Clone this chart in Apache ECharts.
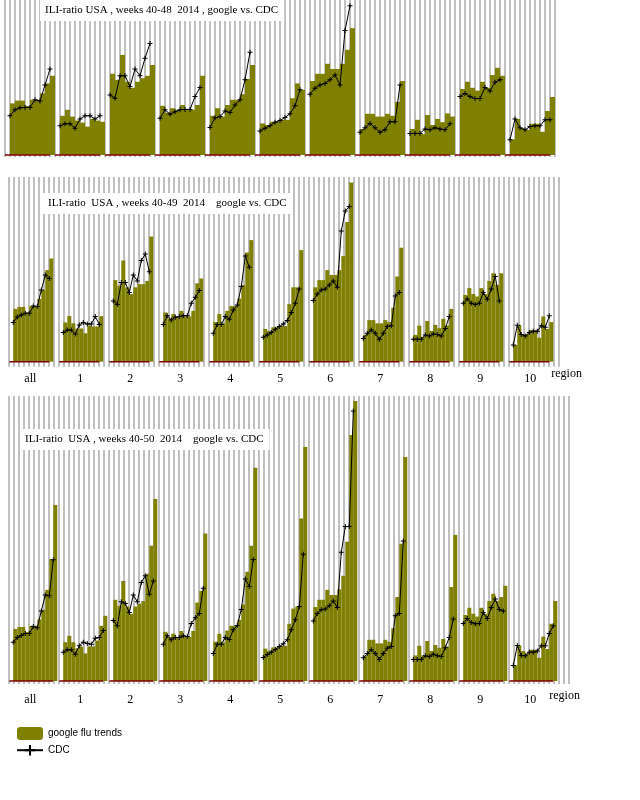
<!DOCTYPE html>
<html lang="en">
<head>
<meta charset="UTF-8">
<title>ILI-ratio USA, google vs. CDC</title>
<script src="https://cdn.jsdelivr.net/npm/echarts@6.0.0/dist/echarts.min.js"></script>
<style>
    html, body {margin: 0; padding: 0; background: #fff;}
    #chart {width: 640px; height: 800px;}
</style>
</head>
<body>
<div id="chart"></div>
<script>
// groups along the x axis
var regions = ['all', '1', '2', '3', '4', '5', '6', '7', '8', '9', '10'];

// weeks 40-48 2014 (one row per region, all first)
var google48 = [
    [1.29, 1.36, 1.36, 1.23, 1.38, 1.38, 1.54, 1.79, 1.98],
    [0.98, 1.13, 0.96, 0.86, 0.81, 0.71, 0.90, 0.86, 0.83],
    [2.03, 1.88, 2.50, 1.83, 1.68, 1.83, 1.92, 1.98, 2.25],
    [1.23, 1.06, 1.17, 1.13, 1.25, 1.13, 1.13, 1.25, 1.98],
    [0.98, 1.17, 0.96, 1.25, 1.38, 1.38, 1.52, 1.90, 2.25],
    [0.79, 0.75, 0.83, 0.83, 0.88, 0.88, 1.42, 1.79, 1.63],
    [1.85, 2.03, 2.03, 2.28, 2.15, 2.15, 2.28, 2.63, 3.17],
    [0.65, 1.03, 1.03, 0.96, 0.96, 1.03, 0.98, 1.33, 1.85],
    [0.65, 0.88, 0.52, 1.00, 0.75, 0.90, 0.82, 1.04, 0.96],
    [1.65, 1.83, 1.68, 1.61, 1.83, 1.68, 2.00, 2.18, 1.98],
    [0.39, 0.90, 0.67, 0.63, 0.78, 0.78, 0.58, 1.10, 1.45]
];
var cdc48 = [
    [0.98, 1.13, 1.18, 1.19, 1.19, 1.38, 1.35, 1.75, 2.15],
    [0.73, 0.78, 0.78, 0.67, 0.90, 0.98, 0.98, 0.90, 0.98],
    [1.50, 1.42, 1.98, 1.98, 1.71, 2.15, 1.98, 2.42, 2.79],
    [0.92, 1.13, 1.02, 1.08, 1.13, 1.14, 1.14, 1.46, 1.69],
    [0.69, 0.93, 0.96, 1.10, 1.06, 1.25, 1.38, 1.88, 2.57],
    [0.60, 0.67, 0.73, 0.82, 0.86, 0.94, 1.03, 1.23, 1.63],
    [1.52, 1.67, 1.75, 1.79, 1.88, 2.00, 1.75, 3.11, 3.73],
    [0.57, 0.68, 0.79, 0.68, 0.57, 0.63, 0.83, 0.83, 1.75],
    [0.54, 0.54, 0.54, 0.65, 0.63, 0.68, 0.65, 0.63, 0.78],
    [1.46, 1.54, 1.46, 1.41, 1.41, 1.69, 1.60, 1.82, 1.88],
    [0.38, 0.90, 0.68, 0.63, 0.71, 0.73, 0.73, 0.88, 0.88]
];

// weeks 40-49 2014
var google49 = [
    [1.32, 1.37, 1.37, 1.23, 1.39, 1.39, 1.57, 1.79, 2.29, 2.58],
    [0.98, 1.14, 0.96, 0.83, 0.83, 0.71, 0.90, 0.88, 0.88, 1.14],
    [2.04, 1.90, 2.53, 1.86, 1.69, 1.86, 1.94, 1.94, 2.02, 3.13],
    [1.23, 1.08, 1.19, 1.13, 1.27, 1.13, 1.13, 1.27, 1.96, 2.08],
    [0.99, 1.19, 0.96, 1.27, 1.39, 1.39, 1.58, 1.92, 2.73, 3.04],
    [0.82, 0.77, 0.86, 0.86, 0.89, 0.89, 1.44, 1.86, 1.86, 2.79],
    [1.86, 2.04, 2.04, 2.29, 2.17, 2.17, 2.29, 2.64, 3.49, 4.48],
    [0.67, 1.04, 1.04, 0.96, 0.96, 1.04, 0.99, 1.35, 2.13, 2.85],
    [0.67, 0.90, 0.62, 1.02, 0.77, 0.92, 0.84, 1.07, 0.90, 1.32],
    [1.67, 1.84, 1.69, 1.63, 1.84, 1.69, 2.02, 2.21, 1.92, 2.21],
    [0.42, 0.92, 0.68, 0.69, 0.79, 0.79, 0.60, 1.13, 0.82, 0.99]
];
var cdc49 = [
    [0.98, 1.12, 1.17, 1.21, 1.21, 1.39, 1.38, 1.79, 2.17, 2.08],
    [0.73, 0.79, 0.79, 0.69, 0.92, 0.98, 0.94, 0.94, 1.13, 0.93],
    [1.52, 1.43, 1.98, 1.98, 1.73, 2.17, 2.02, 2.53, 2.69, 2.25],
    [0.93, 1.15, 1.04, 1.11, 1.13, 1.15, 1.15, 1.46, 1.61, 1.78],
    [0.71, 0.93, 0.93, 1.13, 1.06, 1.29, 1.42, 1.88, 2.64, 2.36],
    [0.61, 0.67, 0.73, 0.81, 0.88, 0.94, 1.03, 1.23, 1.46, 1.82],
    [1.53, 1.69, 1.79, 1.82, 1.92, 2.02, 1.86, 3.27, 3.77, 3.88],
    [0.58, 0.71, 0.79, 0.71, 0.56, 0.71, 0.88, 0.90, 1.64, 1.73],
    [0.56, 0.56, 0.56, 0.67, 0.64, 0.69, 0.68, 0.64, 0.83, 1.13],
    [1.46, 1.57, 1.46, 1.43, 1.46, 1.73, 1.56, 1.82, 2.13, 1.52],
    [0.42, 0.91, 0.68, 0.64, 0.73, 0.76, 0.76, 0.90, 0.86, 1.15]
];

// weeks 40-50 2014
var google50 = [
    [1.30, 1.35, 1.35, 1.22, 1.38, 1.38, 1.54, 1.78, 2.28, 3.05, 4.40],
    [0.97, 1.13, 0.97, 0.82, 0.86, 0.69, 0.86, 0.86, 1.01, 1.38, 1.63],
    [2.03, 1.88, 2.50, 1.86, 1.68, 1.86, 1.93, 2.00, 2.68, 3.38, 4.55],
    [1.23, 1.10, 1.18, 1.10, 1.25, 1.10, 1.10, 1.25, 1.96, 2.25, 3.69],
    [0.98, 1.18, 0.96, 1.26, 1.38, 1.38, 1.53, 1.91, 2.73, 3.38, 5.33],
    [0.81, 0.76, 0.84, 0.84, 0.88, 0.88, 1.43, 1.81, 1.86, 4.06, 5.85],
    [1.85, 2.03, 2.03, 2.28, 2.15, 2.15, 2.29, 2.63, 3.48, 6.15, 7.00],
    [0.63, 1.03, 1.03, 0.94, 0.94, 1.03, 0.98, 1.32, 2.10, 3.43, 5.60],
    [0.64, 0.88, 0.64, 1.00, 0.75, 0.90, 0.83, 1.05, 0.86, 2.35, 3.65],
    [1.65, 1.83, 1.68, 1.61, 1.83, 1.68, 2.00, 2.18, 2.00, 2.10, 2.38],
    [0.39, 0.89, 0.75, 0.69, 0.78, 0.78, 0.58, 1.11, 0.80, 1.43, 2.00]
];
var cdc50 = [
    [0.97, 1.09, 1.14, 1.19, 1.19, 1.36, 1.33, 1.75, 2.15, 2.13, 3.03],
    [0.72, 0.78, 0.78, 0.67, 0.88, 0.97, 0.94, 0.92, 1.07, 1.09, 1.26],
    [1.51, 1.38, 1.98, 1.94, 1.71, 2.15, 1.98, 2.46, 2.63, 2.17, 2.50],
    [0.92, 1.13, 1.03, 1.09, 1.09, 1.13, 1.11, 1.44, 1.58, 1.69, 2.32],
    [0.69, 0.92, 0.92, 1.09, 1.04, 1.28, 1.39, 1.79, 2.55, 2.36, 3.04],
    [0.59, 0.66, 0.72, 0.79, 0.86, 0.93, 1.03, 1.28, 1.53, 1.86, 3.17],
    [1.50, 1.69, 1.78, 1.80, 1.88, 2.00, 1.84, 3.22, 3.86, 3.86, 6.75],
    [0.58, 0.69, 0.78, 0.69, 0.54, 0.69, 0.82, 0.86, 1.63, 1.69, 3.50],
    [0.54, 0.54, 0.54, 0.63, 0.61, 0.67, 0.63, 0.61, 0.83, 1.09, 1.55],
    [1.44, 1.56, 1.46, 1.43, 1.44, 1.71, 1.56, 1.84, 2.05, 1.79, 1.75],
    [0.39, 0.89, 0.64, 0.63, 0.72, 0.72, 0.75, 0.88, 0.88, 1.19, 1.38]
];

var titles = [
    'ILI-ratio USA , weeks 40-48  2014 , google vs. CDC',
    'ILI-ratio  USA , weeks 40-49  2014    google vs. CDC',
    'ILI-ratio  USA , weeks 40-50  2014    google vs. CDC'
];

// one x slot = 5px, group = 10 slots
var panels = [
    {google: google48, cdc: cdc48, left: 5,   top: 0,   height: 157,   slots: 110, barPx: 5, yMin: -0.05,  yMax: 3.875,  tl: 40, tt: 0,   labels: false},
    {google: google49, cdc: cdc49, left: 8.3, top: 177, height: 189.7, slots: 110, barPx: 4, yMin: -0.125, yMax: 4.6175, tl: 43, tt: 193, labels: true, margin: 6,  nameGap: -7,  nameLh: 14},
    {google: google50, cdc: cdc50, left: 8.3, top: 396, height: 288,   slots: 112, barPx: 4, yMin: -0.075, yMax: 7.125,  tl: 20, tt: 429, labels: true, margin: 10, nameGap: -19, nameLh: 24}
];

var plus = 'path://M2,0H3V2H5V3H3V5H2V3H0V2H2Z';
var serif = "'Liberation Serif', 'Times New Roman', serif";

var grid = [], xAxis = [], yAxis = [], series = [], title = [];

panels.forEach(function (p, k) {
    var w = p.barPx / 5;
    grid.push({left: p.left, top: p.top, width: p.slots * 5, height: p.height});
    title.push({
        text: titles[k], left: p.tl, top: p.tt,
        padding: [5, 6, 5, 5], backgroundColor: '#fff',
        textStyle: {fontFamily: serif, fontSize: 11, fontWeight: 'normal', color: '#000'}
    });
    yAxis.push({type: 'value', gridIndex: k, min: p.yMin, max: p.yMax, show: false});

    var xi = xAxis.length;
    xAxis.push({
        type: 'value', gridIndex: k, min: 0, max: p.slots, interval: 1,
        axisLine: {show: false}, axisTick: {show: false}, axisLabel: {show: false},
        splitLine: {show: true, lineStyle: {color: '#c0c0c0', width: 2}}
    });
    if (p.labels) {
        xAxis.push({
            type: 'value', gridIndex: k, min: 0, max: p.slots, position: 'bottom',
            axisLine: {show: false}, axisTick: {show: false}, splitLine: {show: false},
            axisLabel: {
                show: true, margin: p.margin, fontFamily: serif, fontSize: 12, color: '#000',
                customValues: regions.map(function (r, g) { return 10 * g + 4.4; }),
                formatter: function (v) { return regions[Math.round((v - 4.4) / 10)]; }
            },
            name: 'region', nameLocation: 'end', nameGap: p.nameGap,
            nameTextStyle: {fontFamily: serif, fontSize: 12, color: '#000', verticalAlign: 'top', lineHeight: p.nameLh}
        });
    }

    var bars = [];
    p.google.forEach(function (vals, g) {
        vals.forEach(function (v, i) { bars.push([1 + 10 * g + i * w + w / 2, v]); });
    });
    series.push({
        type: 'bar', name: 'google flu trends', xAxisIndex: xi, yAxisIndex: k,
        data: bars, barWidth: p.barPx, itemStyle: {color: '#808000'}, z: 2
    });

    p.cdc.forEach(function (vals, g) {
        var n = vals.length;
        // baseline under each group
        series.push({
            type: 'line', xAxisIndex: xi, yAxisIndex: k, symbol: 'none', z: 3,
            data: [[1 + 10 * g - w, 0], [1 + 10 * g + (n - 1) * w, 0]],
            lineStyle: {color: '#800000', width: 1.5}
        });
        series.push({
            type: 'line', name: 'CDC', xAxisIndex: xi, yAxisIndex: k, z: 4,
            data: vals.map(function (v, i) { return [1 + 10 * g + i * w, v]; }),
            symbol: plus, symbolSize: 5,
            lineStyle: {color: '#000', width: 1}, itemStyle: {color: '#000'}
        });
    });
});

var chart = echarts.init(document.getElementById('chart'));
chart.setOption({
    animation: false,
    title: title,
    grid: grid,
    xAxis: xAxis,
    yAxis: yAxis,
    legend: {
        orient: 'vertical', left: 11, top: 722, itemWidth: 26, itemHeight: 13, itemGap: 5,
        selectedMode: false,
        data: [{name: 'google flu trends', icon: 'roundRect'}, {name: 'CDC'}],
        textStyle: {fontFamily: "'Liberation Sans Narrow', 'Liberation Sans', sans-serif", fontSize: 10, color: '#000'}
    },
    series: series
});
</script>
</body>
</html>
